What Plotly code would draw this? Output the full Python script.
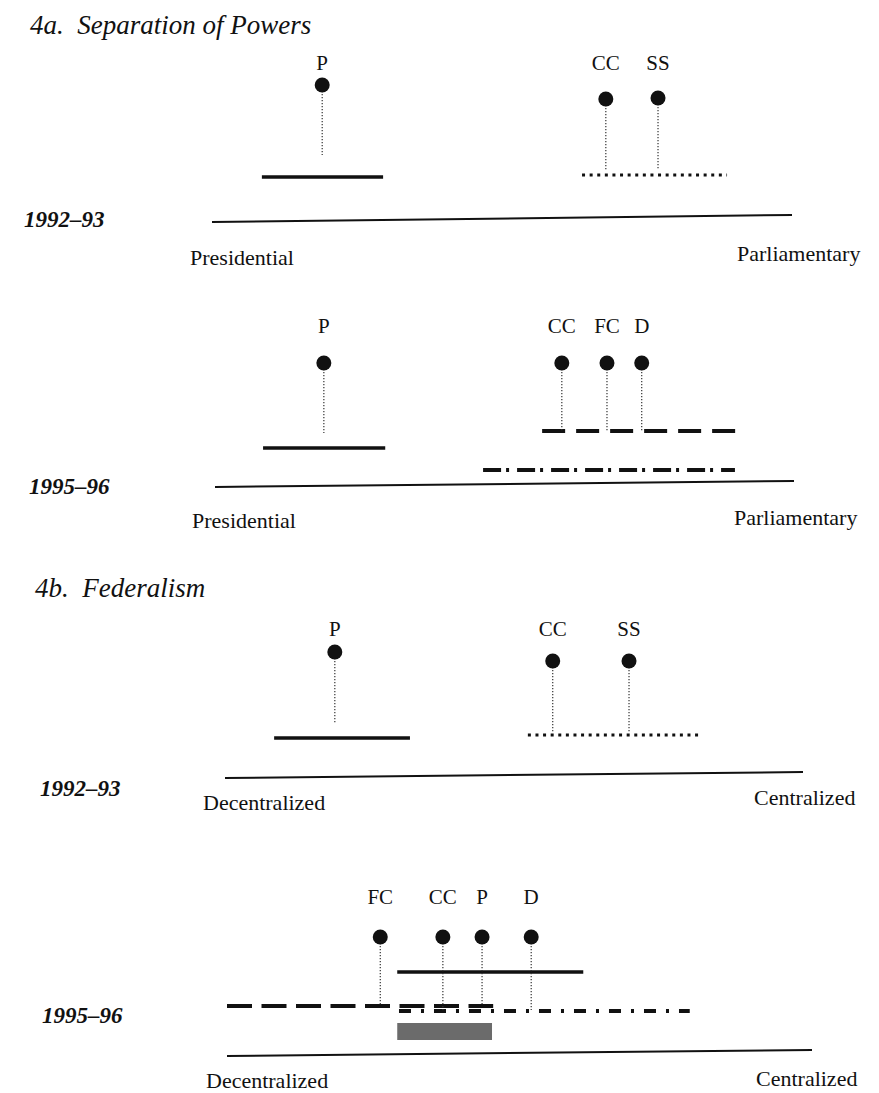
import plotly.graph_objects as go

W, H = 879, 1093

# ---------------- data ----------------
# 4a. Separation of Powers, scale 0 = Presidential ... 100 = Parliamentary
sep92_actors = ["P", "CC", "SS"]
sep92_ideal = [19.0, 67.9, 76.9]
sep92_seg_style = ["solid", "dotted"]
sep92_seg_lo = [8.6, 63.8]
sep92_seg_hi = [29.5, 88.8]

sep95_actors = ["P", "CC", "FC", "D"]
sep95_ideal = [18.8, 59.9, 67.7, 73.7]
sep95_seg_style = ["solid", "dashed", "dashdot"]
sep95_seg_lo = [8.3, 56.5, 46.3]
sep95_seg_hi = [29.4, 90.2, 89.8]

# 4b. Federalism, scale 0 = Decentralized ... 100 = Centralized
fed92_actors = ["P", "CC", "SS"]
fed92_ideal = [19.0, 56.7, 69.9]
fed92_seg_style = ["solid", "dotted"]
fed92_seg_lo = [8.5, 52.4]
fed92_seg_hi = [32.0, 82.0]

fed95_actors = ["FC", "CC", "P", "D"]
fed95_ideal = [26.2, 36.9, 43.6, 52.0]
fed95_seg_style = ["solid", "dashed", "dashdot"]
fed95_seg_lo = [29.1, 0.0, 29.4]
fed95_seg_hi = [60.9, 45.5, 79.1]
fed95_core_lo = [29.1]
fed95_core_hi = [45.3]

year_labels = ["1992–93", "1995–96", "1992–93", "1995–96"]
pole_left = ["Presidential", "Presidential", "Decentralized", "Decentralized"]
pole_right = ["Parliamentary", "Parliamentary", "Centralized", "Centralized"]
section_titles = ["4a.\u00a0\u00a0Separation of Powers", "4b.\u00a0\u00a0Federalism"]

# ---------------- styling / placement ----------------
FONT = "Liberation Serif"
INK = "#111111"

base_styles = {
    "solid": dict(width=3.5, dash="solid"),
    "dotted": dict(width=3, dash="3px,4.6px"),
    "dashed": dict(width=4, dash="23px,11px"),
    "dashdot": dict(width=4, dash="18px,5px,3px,8px"),
}

panels = [
    dict(actors=sep92_actors, ideal=sep92_ideal, styles=sep92_seg_style,
         lo=sep92_seg_lo, hi=sep92_seg_hi,
         x0=212, x1=792, axis_y=(222, 215), label_y=65,
         dot_y=[85, 99, 98], stem_end=[155, 170, 170], seg_y=[177, 175],
         year=(22, 219), left=(242, 257), right=(798, 253), override={}),
    dict(actors=sep95_actors, ideal=sep95_ideal, styles=sep95_seg_style,
         lo=sep95_seg_lo, hi=sep95_seg_hi,
         x0=215, x1=794, axis_y=(487, 481), label_y=328,
         dot_y=[363, 363, 363, 363], stem_end=[433, 431, 432, 431], seg_y=[448, 431, 470],
         year=(27, 486), left=(244, 520), right=(795, 517), override={}),
    dict(actors=fed92_actors, ideal=fed92_ideal, styles=fed92_seg_style,
         lo=fed92_seg_lo, hi=fed92_seg_hi,
         x0=225, x1=803, axis_y=(778, 772), label_y=631,
         dot_y=[652, 661, 661], stem_end=[723, 733, 733], seg_y=[738, 735],
         year=(38, 788), left=(264, 802), right=(804, 797), override={}),
    dict(actors=fed95_actors, ideal=fed95_ideal, styles=fed95_seg_style,
         lo=fed95_seg_lo, hi=fed95_seg_hi,
         x0=227, x1=812, axis_y=(1056, 1050), label_y=899,
         dot_y=[937, 937, 937, 937], stem_end=[1006, 1012, 1005, 1010], seg_y=[972, 1006, 1011],
         year=(40, 1015), left=(267, 1080), right=(806, 1078),
         core=(fed95_core_lo, fed95_core_hi, 1023, 1040),
         override={"dashed": dict(width=4, dash="25px,9.5px"),
                   "dashdot": dict(width=4, dash="12px,10px,3px,10px")}),
]

fig = go.Figure()
layout_axes = {}

for i, p in enumerate(panels):
    sfx = "" if i == 0 else str(i + 1)
    xa, ya = "x" + sfx, "y" + sfx
    layout_axes["xaxis" + sfx] = dict(domain=[p["x0"] / W, p["x1"] / W], range=[0, 100],
                                      anchor=ya, visible=False, fixedrange=True)
    layout_axes["yaxis" + sfx] = dict(domain=[0, 1], range=[H, 0], anchor=xa,
                                      visible=False, fixedrange=True)

    common = dict(xaxis=xa, yaxis=ya, hoverinfo="skip", cliponaxis=False)

    # shaded core region
    if "core" in p:
        clo, chi, cy0, cy1 = p["core"]
        for a, b in zip(clo, chi):
            fig.add_trace(go.Scatter(x=[a, b, b, a, a], y=[cy0, cy0, cy1, cy1, cy0],
                                     mode="lines", fill="toself", fillcolor="#6b6b6b",
                                     line=dict(width=0, color="#6b6b6b"), **common))

    # policy dimension line
    fig.add_trace(go.Scatter(x=[0, 100], y=list(p["axis_y"]), mode="lines",
                             line=dict(color=INK, width=2), **common))

    # ranges
    for st, a, b, sy in zip(p["styles"], p["lo"], p["hi"], p["seg_y"]):
        sty = p["override"].get(st, base_styles[st])
        fig.add_trace(go.Scatter(x=[a, b], y=[sy, sy], mode="lines",
                                 line=dict(color=INK, width=sty["width"], dash=sty["dash"]),
                                 **common))

    # stems
    sx, sy_ = [], []
    for v, d, e in zip(p["ideal"], p["dot_y"], p["stem_end"]):
        sx += [v, v, None]
        sy_ += [d, e, None]
    fig.add_trace(go.Scatter(x=sx, y=sy_, mode="lines",
                             line=dict(color="#333333", width=1.2, dash="1.3px,1.7px"),
                             **common))

    # ideal points
    fig.add_trace(go.Scatter(x=p["ideal"], y=p["dot_y"], mode="markers",
                             marker=dict(color=INK, size=15, line=dict(width=0)), **common))

    # actor labels
    fig.add_trace(go.Scatter(x=p["ideal"], y=[p["label_y"]] * len(p["actors"]),
                             mode="text", text=p["actors"], textposition="middle center",
                             textfont=dict(family=FONT, size=21, color=INK), **common))

annotations = []
title_pos = [(28, 25), (33, 588)]
for t, (tx, ty) in zip(section_titles, title_pos):
    annotations.append(dict(text=f"<i>{t}</i>", x=tx / W, y=ty, xref="paper", yref="y",
                            xanchor="left", yanchor="middle", showarrow=False,
                            font=dict(family=FONT, size=27, color=INK)))

for p, yl, pl, pr in zip(panels, year_labels, pole_left, pole_right):
    annotations.append(dict(text=f"<b><i>{yl}</i></b>", x=p["year"][0] / W, y=p["year"][1],
                            xref="paper", yref="y", xanchor="left", yanchor="middle",
                            showarrow=False, font=dict(family=FONT, size=23, color=INK)))
    annotations.append(dict(text=pl, x=p["left"][0] / W, y=p["left"][1], xref="paper",
                            yref="y", xanchor="center", yanchor="middle", showarrow=False,
                            font=dict(family=FONT, size=22, color=INK)))
    annotations.append(dict(text=pr, x=p["right"][0] / W, y=p["right"][1], xref="paper",
                            yref="y", xanchor="center", yanchor="middle", showarrow=False,
                            font=dict(family=FONT, size=22, color=INK)))

fig.update_layout(
    width=W, height=H, autosize=False,
    margin=dict(l=0, r=0, t=0, b=0, pad=0),
    paper_bgcolor="white", plot_bgcolor="rgba(0,0,0,0)",
    showlegend=False,
    annotations=annotations,
    **layout_axes,
)

fig.write_html("out.html", config={"displayModeBar": False, "staticPlot": True},
               post_script="document.body.style.margin='0';document.body.style.overflow='hidden';")
